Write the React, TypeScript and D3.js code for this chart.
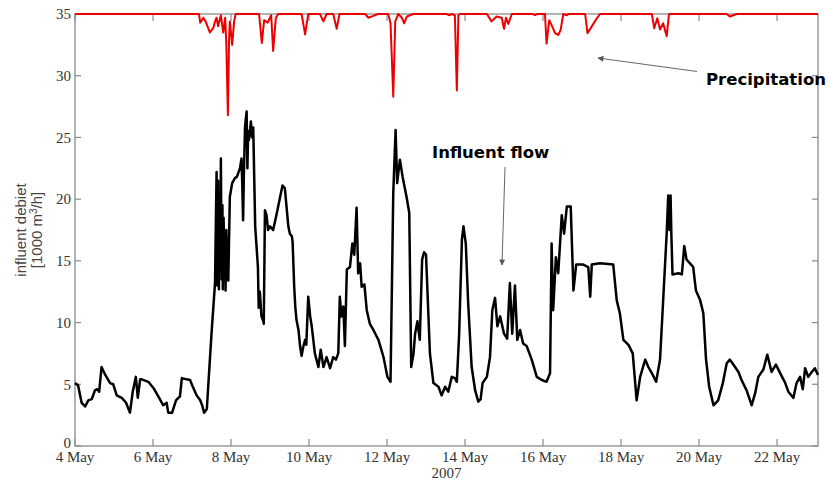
import React from 'react';
import * as d3 from 'd3';

const W = 830;
const H = 481;
const PLOT = { left: 75, right: 818, top: 14, bottom: 446 };

const START = new Date(2007, 4, 4);
const END_DAY = 19.05;

const xTickDays = [0, 2, 4, 6, 8, 10, 12, 14, 16, 18];
const yTicks = [0, 5, 10, 15, 20, 25, 30, 35];
const yearLabel = '2007';
const yLabelLines = ['influent debiet', '[1000 m', '3', '/h]'];
const annotations = { precipitation: 'Precipitation', flow: 'Influent flow' };

// [days since 4 May 2007, influent flow (1000 m3/h)]
const flow: [number, number][] = [
  [0.0, 5.1], [0.08, 4.9], [0.17, 3.5], [0.26, 3.2], [0.34, 3.7], [0.43, 3.8], [0.51, 4.5], [0.57, 4.6],
  [0.62, 4.4], [0.68, 6.4], [0.77, 5.8], [0.9, 5.1], [0.98, 5.0], [1.07, 4.1], [1.2, 3.9], [1.31, 3.5],
  [1.41, 2.7], [1.48, 4.4], [1.56, 5.6], [1.61, 3.9], [1.67, 5.4], [1.71, 5.4], [1.88, 5.2], [2.01, 4.7],
  [2.14, 4.0], [2.26, 3.3], [2.35, 3.5], [2.39, 2.7], [2.49, 2.7], [2.59, 3.7], [2.65, 3.9], [2.69, 4.0],
  [2.74, 5.5], [2.86, 5.4], [2.95, 5.35], [3.02, 4.8], [3.12, 4.1], [3.21, 3.7], [3.26, 3.3], [3.31, 2.7],
  [3.38, 3.0], [3.5, 9.1], [3.59, 13.2], [3.63, 22.2], [3.65, 13.0], [3.67, 21.5], [3.69, 12.7], [3.71, 20.0],
  [3.73, 14.5], [3.74, 23.3], [3.76, 13.5], [3.78, 19.5], [3.79, 12.7], [3.81, 18.5], [3.83, 14.0], [3.85, 17.0],
  [3.86, 12.6], [3.88, 17.5], [3.9, 13.5], [3.92, 16.8], [3.93, 13.4], [3.97, 20.2], [4.03, 21.3], [4.1, 21.7],
  [4.15, 21.8], [4.23, 22.5], [4.27, 23.3], [4.29, 21.0], [4.31, 18.3], [4.33, 22.0], [4.36, 25.9], [4.4, 27.1],
  [4.42, 22.5], [4.44, 25.5], [4.46, 24.8], [4.51, 26.3], [4.54, 25.0], [4.57, 25.8], [4.62, 17.8], [4.66, 15.9],
  [4.69, 14.5], [4.71, 11.2], [4.74, 12.5], [4.78, 10.5], [4.83, 10.1], [4.84, 9.9], [4.87, 19.1], [4.91, 18.7],
  [4.95, 17.5], [5.0, 17.8], [5.08, 17.5], [5.17, 18.8], [5.26, 20.2], [5.32, 21.1], [5.38, 20.9], [5.47, 17.8],
  [5.51, 17.2], [5.56, 17.0], [5.58, 16.5], [5.62, 12.9], [5.65, 11.2], [5.68, 10.2], [5.73, 9.4], [5.77, 8.1],
  [5.81, 7.3], [5.85, 8.0], [5.9, 8.6], [5.93, 8.2], [5.98, 12.1], [6.03, 10.5], [6.07, 9.7], [6.15, 7.5],
  [6.24, 6.4], [6.3, 7.8], [6.37, 6.4], [6.45, 7.2], [6.54, 6.3], [6.62, 7.2], [6.69, 7.0], [6.75, 7.5],
  [6.79, 12.1], [6.83, 10.5], [6.88, 11.3], [6.92, 8.1], [6.97, 14.3], [7.05, 14.5], [7.11, 16.4], [7.16, 15.5],
  [7.22, 19.3], [7.26, 14.0], [7.31, 14.8], [7.35, 12.9], [7.42, 13.1], [7.48, 11.0], [7.56, 9.9], [7.65, 9.4],
  [7.78, 8.6], [7.91, 7.2], [8.01, 5.6], [8.09, 5.2], [8.16, 20.5], [8.22, 25.6], [8.26, 21.3], [8.33, 23.2],
  [8.4, 21.8], [8.5, 20.2], [8.57, 18.9], [8.62, 6.4], [8.68, 7.5], [8.72, 9.1], [8.78, 10.1], [8.84, 8.6],
  [8.9, 15.1], [8.95, 15.7], [9.0, 15.5], [9.1, 7.5], [9.19, 5.1], [9.32, 4.8], [9.4, 4.1], [9.49, 4.8],
  [9.57, 4.4], [9.66, 5.6], [9.74, 5.5], [9.79, 5.2], [9.85, 9.1], [9.92, 16.7], [9.96, 17.8], [10.02, 16.4],
  [10.08, 11.6], [10.17, 6.4], [10.26, 4.5], [10.34, 3.6], [10.4, 3.8], [10.45, 5.1], [10.56, 5.6], [10.64, 7.2],
  [10.7, 11.0], [10.77, 12.0], [10.83, 9.7], [10.9, 10.5], [11.0, 9.1], [11.08, 8.7], [11.15, 13.2], [11.21, 9.1],
  [11.28, 13.0], [11.34, 8.6], [11.41, 9.4], [11.49, 8.3], [11.58, 8.1], [11.71, 7.0], [11.84, 5.6], [11.97, 5.35],
  [12.09, 5.2], [12.18, 5.9], [12.22, 16.4], [12.26, 11.0], [12.33, 15.3], [12.39, 14.0], [12.48, 18.7], [12.54, 17.2],
  [12.61, 19.4], [12.71, 19.4], [12.78, 12.6], [12.85, 14.7], [13.03, 14.7], [13.16, 14.5], [13.21, 12.1], [13.25, 14.7],
  [13.46, 14.8], [13.8, 14.7], [13.89, 11.8], [13.97, 10.75], [14.06, 8.6], [14.19, 8.2], [14.3, 7.5], [14.4, 3.7],
  [14.49, 5.6], [14.62, 7.0], [14.7, 6.4], [14.79, 5.9], [14.9, 5.2], [15.0, 7.0], [15.08, 11.8], [15.17, 17.2],
  [15.21, 20.3], [15.24, 17.5], [15.27, 20.3], [15.29, 17.2], [15.32, 13.9], [15.47, 14.0], [15.56, 13.9], [15.62, 16.2],
  [15.68, 15.1], [15.77, 14.8], [15.85, 14.5], [15.92, 12.6], [16.03, 11.8], [16.11, 10.75], [16.18, 7.0], [16.26, 4.8],
  [16.37, 3.3], [16.49, 3.7], [16.61, 5.1], [16.71, 6.7], [16.79, 7.0], [16.88, 6.6], [17.01, 6.0], [17.09, 5.35],
  [17.22, 4.5], [17.35, 3.3], [17.44, 4.3], [17.52, 5.6], [17.65, 6.2], [17.75, 7.4], [17.86, 6.0], [17.97, 6.6],
  [18.08, 5.9], [18.21, 5.1], [18.29, 4.4], [18.42, 3.9], [18.5, 5.1], [18.59, 5.6], [18.66, 4.6], [18.72, 6.3],
  [18.8, 5.6], [18.89, 6.0], [18.97, 6.3], [19.05, 5.75],
];

// [days since 4 May 2007, precipitation (plotted downward from the top of the axis)]
const precipitation: [number, number][] = [
  [0, 0], [3.18, 0], [3.21, 0.7], [3.29, 0.3], [3.35, 0.6], [3.41, 1.1], [3.46, 1.5], [3.55, 1.1], [3.59, 0.6],
  [3.63, 0.3], [3.67, 1.0], [3.74, 0.1], [3.8, 1.5], [3.85, 0.3], [3.88, 2.5], [3.92, 8.2], [3.95, 2.0], [3.97, 0.6],
  [4.03, 2.5], [4.08, 0.6], [4.12, 0], [4.72, 0], [4.79, 2.35], [4.85, 0.5], [4.94, 0.7], [5.03, 0.1], [5.08, 3.0],
  [5.15, 0.3], [5.21, 0], [5.81, 0], [5.9, 1.65], [5.98, 0], [6.28, 0], [6.37, 0.6], [6.45, 0], [6.62, 0],
  [6.71, 1.2], [6.78, 0], [7.44, 0], [7.52, 0.3], [7.65, 0.15], [7.77, 0], [8.03, 0], [8.09, 0.75], [8.16, 6.7],
  [8.21, 0.6], [8.29, 0], [8.38, 0.3], [8.44, 0.75], [8.51, 0.2], [8.67, 0], [9.53, 0], [9.6, 0.1], [9.66, 0],
  [9.74, 0.1], [9.79, 6.2], [9.83, 0.1], [9.87, 0], [10.56, 0], [10.68, 0.6], [10.81, 0.2], [10.94, 0.3],
  [11.0, 1.2], [11.05, 0.3], [11.11, 0.8], [11.2, 0], [11.74, 0], [11.79, 0.1], [11.85, 0], [12.05, 0],
  [12.09, 2.4], [12.16, 0.5], [12.22, 0.9], [12.31, 1.55], [12.39, 1.7], [12.45, 1.3], [12.52, 0], [12.61, 0.1],
  [12.65, 0], [13.08, 0], [13.14, 1.55], [13.25, 1.0], [13.38, 0.35], [13.46, 0], [14.79, 0], [14.85, 1.15],
  [14.93, 0.35], [15.0, 1.25], [15.08, 0.75], [15.17, 1.8], [15.23, 0], [16.71, 0], [16.79, 0.2], [16.88, 0.1],
  [16.97, 0], [19.05, 0],
];

const dayToDate = (d: number) => new Date(START.getTime() + d * 86400000);

export default function App() {
  const x = d3.scaleTime().domain([START, dayToDate(END_DAY)]).range([PLOT.left, PLOT.right]);
  const y = d3.scaleLinear().domain([0, 35]).range([PLOT.bottom, PLOT.top]);
  const fmt = d3.timeFormat('%-d %b');

  const flowLine = d3
    .line<[number, number]>()
    .x((d) => x(dayToDate(d[0])))
    .y((d) => y(d[1]))
    .curve(d3.curveLinear);
  const rainLine = d3
    .line<[number, number]>()
    .x((d) => x(dayToDate(d[0])))
    .y((d) => y(35 - d[1]))
    .curve(d3.curveLinear);

  const axisColor = '#8a8a8a';
  const tickFont = "'Liberation Serif', 'Times New Roman', serif";
  const sans = "'Liberation Sans', Arial, sans-serif";
  const boldFont = "'DejaVu Sans', Verdana, sans-serif";
  const yMid = (PLOT.top + PLOT.bottom) / 2;

  return (
    <svg
      width={W}
      height={H}
      viewBox={`0 0 ${W} ${H}`}
      style={{ position: 'absolute', left: 0, top: 0, background: '#fff' }}
    >
      <defs>
        <marker id="arrowHead" viewBox="0 0 10 10" refX="9" refY="5" markerWidth="8" markerHeight="6" orient="auto" markerUnits="userSpaceOnUse">
          <path d="M0,0 L10,5 L0,10 z" fill="#555" />
        </marker>
      </defs>

      {/* axes box */}
      <rect
        x={PLOT.left}
        y={PLOT.top}
        width={PLOT.right - PLOT.left}
        height={PLOT.bottom - PLOT.top}
        fill="none"
        stroke={axisColor}
        strokeWidth={1.3}
      />

      {/* x ticks */}
      {xTickDays.map((d) => {
        const px = x(dayToDate(d));
        return (
          <g key={`xt${d}`}>
            <line x1={px} x2={px} y1={PLOT.bottom} y2={PLOT.bottom - 7} stroke={axisColor} strokeWidth={1.2} />
            <line x1={px} x2={px} y1={PLOT.top} y2={PLOT.top + 7} stroke={axisColor} strokeWidth={1.2} />
            <text x={px} y={462} textAnchor="middle" fontFamily={tickFont} fontSize={15} fill="#333">
              {fmt(dayToDate(d))}
            </text>
          </g>
        );
      })}

      {/* y ticks */}
      {yTicks.map((v) => {
        const py = y(v);
        return (
          <g key={`yt${v}`}>
            <line x1={PLOT.left} x2={PLOT.left + 6} y1={py} y2={py} stroke={axisColor} strokeWidth={1.2} />
            <line x1={PLOT.right} x2={PLOT.right - 6} y1={py} y2={py} stroke={axisColor} strokeWidth={1.2} />
            <text x={71} y={v === 0 ? py - 3 : py} dy="0.35em" textAnchor="end" fontFamily={tickFont} fontSize={15} fill="#333">
              {v}
            </text>
          </g>
        );
      })}

      <text x={(PLOT.left + PLOT.right) / 2} y={478} textAnchor="middle" fontFamily={tickFont} fontSize={15} fill="#333">
        {yearLabel}
      </text>

      {/* y label */}
      <text transform={`translate(26,${yMid}) rotate(-90)`} textAnchor="middle" fontFamily={sans} fontSize={15} fill="#444">
        {yLabelLines[0]}
      </text>
      <text transform={`translate(42,${yMid}) rotate(-90)`} textAnchor="middle" fontFamily={sans} fontSize={15} fill="#444">
        {yLabelLines[1]}
        <tspan dy={-5} fontSize={10}>{yLabelLines[2]}</tspan>
        <tspan dy={5}>{yLabelLines[3]}</tspan>
      </text>

      {/* series */}
      <path d={flowLine(flow) ?? ''} fill="none" stroke="#000" strokeWidth={2.5} strokeLinejoin="round" />
      <path d={rainLine(precipitation) ?? ''} fill="none" stroke="#ee0000" strokeWidth={2} strokeLinejoin="round" />

      {/* annotations */}
      <line x1={697} y1={71.5} x2={598} y2={58} stroke="#666" strokeWidth={1} markerEnd="url(#arrowHead)" />
      <text x={706} y={85} fontFamily={boldFont} fontWeight="bold" fontSize={16.5} fill="#000">
        {annotations.precipitation}
      </text>

      <text x={432} y={158} fontFamily={boldFont} fontWeight="bold" fontSize={16.5} fill="#000">
        {annotations.flow}
      </text>
      <line x1={505} y1={167} x2={502} y2={265} stroke="#666" strokeWidth={1} markerEnd="url(#arrowHead)" />
    </svg>
  );
}
